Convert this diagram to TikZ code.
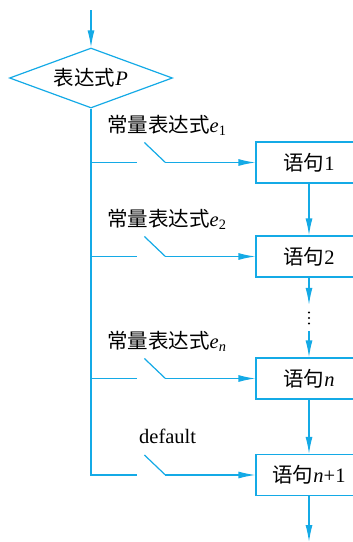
\documentclass[tikz,border=0pt]{standalone}
\usepackage{fontspec}
\setmainfont{Liberation Serif}
\newfontfamily\cjk{Noto Sans CJK SC}
\usetikzlibrary{shapes.geometric,arrows.meta}
\definecolor{flow}{RGB}{20,170,230}
\newcommand{\zh}[1]{{\cjk #1}}
\begin{document}
\begin{tikzpicture}[x=1pt,y=-1pt,
 line/.style={draw=flow,line width=1.2pt},
 arr/.style={line,-{Latex[length=17pt,width=7pt]}},
 bigfont/.style={font=\fontsize{20.5}{24}\selectfont},
 stmt/.style={draw=flow,line width=1.2pt,minimum width=106pt,minimum height=41pt,inner sep=0pt,bigfont},
 cond/.style={diamond,draw=flow,line width=1.2pt,aspect=2.7,minimum width=163pt,minimum height=60pt,inner sep=0pt,bigfont},
 lab/.style={anchor=west,inner sep=0pt,bigfont}
]
\clip (0,0) rectangle (353,542);
\coordinate (top) at (91,10);
\node[cond] (p) at (91,78) {\zh{表达式}\textit{P}};
\node[stmt] (s1) at (309,162.5) {\zh{语句}1};
\node[stmt] (s2) at (309,256.5) {\zh{语句}2};
\node[minimum height=26pt,minimum width=4pt,inner sep=0pt] (dots) at (309,318) {};
\node[stmt] (sn) at (309,378.5) {\zh{语句}\textit{n}};
\node[stmt] (sd) at (309,475) {\zh{语句}\textit{n}+1};
\coordinate (end) at (309,542);
% labels
\node[lab] (l1) at (107,125) {\zh{常量表达式}\textit{e}\textsubscript{1}};
\node[lab] (l2) at (107,219) {\zh{常量表达式}\textit{e}\textsubscript{2}};
\node[lab] (ln) at (107,341) {\zh{常量表达式}\textit{e}\textsubscript{\textit{n}}};
\node[lab] (ld) at (139,436) {default};
% branch coordinates
\foreach \s in {s1,s2,sn,sd}{
  \path (\s.west) ++(-90,0) coordinate (\s-k) ++(-21,-20) coordinate (\s-g) ++(-7,20) coordinate (\s-h);
}
% trunk
\draw[arr] (top) -- (p.north);
\draw[line] (p.south) -- (p.south |- sd-h) -- (sd-h);
\foreach \s in {s1,s2,sn}{
  \draw[line] (p.south |- \s-h) -- (\s-h);
}
\foreach \s in {s1,s2,sn,sd}{
  \draw[line] (\s-g) -- (\s-k);
  \draw[arr] (\s-k) -- (\s.west);
}
% main column
\draw[arr] (s1.south) -- (s2.north);
\draw[arr] (s2.south) -- (dots.north);
\draw[arr] (dots.south) -- (sn.north);
\draw[arr] (sn.south) -- (sd.north);
\draw[arr] (sd.south) -- (end);
\fill (dots.center) ++(0,-5.5) circle (1.1pt) ++(0,5.5) circle (1.1pt) ++(0,5.5) circle (1.1pt);
\end{tikzpicture}
\end{document}
